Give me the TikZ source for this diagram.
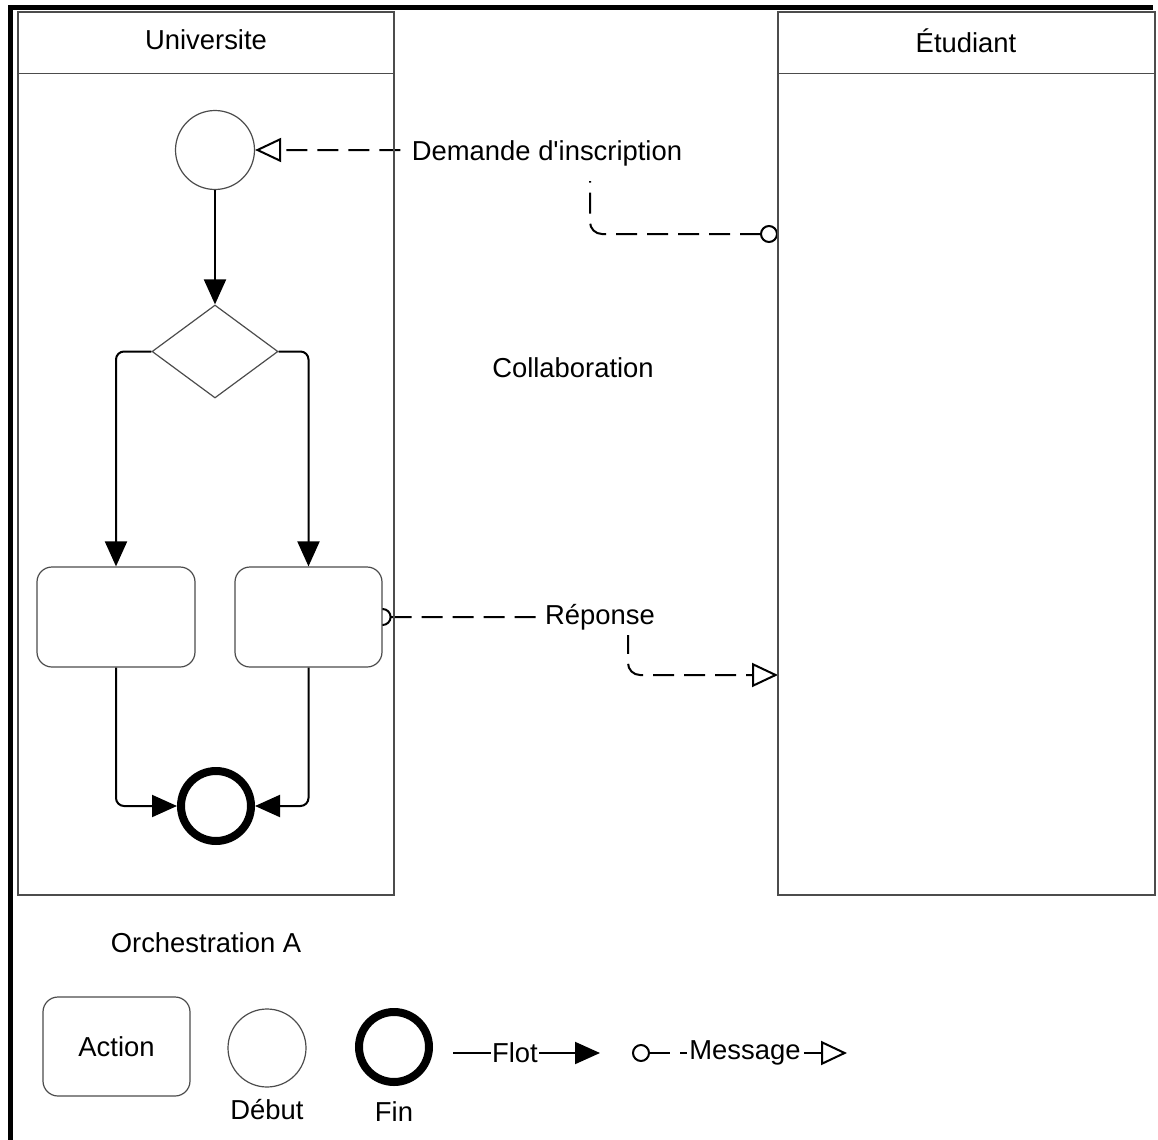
\documentclass[tikz,border=0pt]{standalone}
\usepackage{fontspec}
\setmainfont{Liberation Sans}
\usetikzlibrary{shapes.geometric,arrows.meta,backgrounds}

\tikzset{
  lane/.style={draw=gray!60!black, line width=0.6pt},
  task/.style={draw=gray!60!black, line width=0.6pt, fill=white, rounded corners=7.5pt, inner sep=0pt},
  startev/.style={circle, draw=gray!60!black, line width=0.6pt, fill=white, minimum size=39.5pt, inner sep=0pt},
  endev/.style={circle, draw, line width=4pt, fill=white, minimum size=35pt, inner sep=0pt},
  gateway/.style={diamond, draw=gray!60!black, line width=0.6pt, fill=white, minimum width=63pt, minimum height=46.5pt, inner sep=0pt},
  flot/.style={draw, line width=1pt, rounded corners=4pt, -{Triangle[length=12.5pt,width=11pt]}},
  msg/.style={draw, line width=1pt, rounded corners=6pt, dash pattern=on 10.5pt off 5pt,
    {Circle[open,length=9pt,width=9pt]}-{Triangle[open,length=13pt,width=12pt]}},
  lbl/.style={fill=white, inner xsep=1pt},
}

\begin{document}
\begin{tikzpicture}[x=0.5pt, y=-0.5pt, font=\fontsize{13.7}{16}\selectfont]
  \useasboundingbox (0,0) rectangle (1158,1140);
  \draw[line width=2.5pt] (10,1140) -- (10,7.5) -- (1153,7.5);

  \node[lane, minimum width=188pt, minimum height=441.5pt] (uni) at (206,453.5) {};
  \node[lane, minimum width=188.5pt, minimum height=441.5pt] (etu) at (966.5,453.5) {};
  \draw[lane] (uni.north west) ++(0,62) -- ++(376,0);
  \draw[lane] (etu.north west) ++(0,62) -- ++(377,0);
  \node (unititle) at (206,40) {Universite};
  \node (etutitle) at (966,41) {Étudiant};

  \node[startev] (debut) at (215,150) {};
  \node[gateway] (choix) at (215,351.5) {};
  \node[task, minimum width=79pt, minimum height=50pt] (tacheA) at (116,617) {};
  \node[task, minimum width=73.5pt, minimum height=50pt] (tacheB) at (308.5,617) {};
  \node[endev] (fin) at (216,806) {};

  \draw[flot] (debut) -- (choix);
  \draw[flot] (choix.west) -| (tacheA.north);
  \draw[flot] (choix.east) -| (tacheB.north);
  \draw[flot] (tacheA.south) |- (fin.west);
  \draw[flot] (tacheB.south) |- (fin.east);

  \coordinate (demsrc) at (778,234);
  \coordinate (repdst) at (778,675);
  \begin{scope}[on background layer]
    \draw[msg] (demsrc) -| (590,150) -- (debut.east);
    \draw[msg] ([xshift=-4.5pt]tacheB.east) -| (628,675) -- (repdst);
  \end{scope}
  \node[lbl, inner ysep=7.5pt] (demlbl) at (547,153) {Demande d\textquotesingle inscription};
  \node[lbl, inner ysep=2.5pt] (replbl) at (600,617) {Réponse};

  \node (collab) at (573,368) {Collaboration};
  \node (orch) at (206,943) {Orchestration A};

  \node[task, minimum width=73.5pt, minimum height=49.5pt] (legaction) at (116.5,1046.5) {Action};
  \node[startev, minimum size=39pt] (legdebut) at (267,1048) {};
  \node (txtdebut) at (267,1110) {Début};
  \node[endev] (legfin) at (394,1047) {};
  \node (txtfin) at (394,1112) {Fin};

  \coordinate (flotA) at (453,1053);
  \coordinate (flotB) at (600,1053);
  \draw[flot] (flotA) -- (flotB);
  \node[fill=white, inner xsep=0.5pt, inner ysep=0pt] (flotlbl) at (515,1053) {Flot};

  \coordinate (msgA) at (632,1053);
  \coordinate (msgB) at (847,1053);
  \draw[msg] (msgA) -- (msgB);
  \node[lbl, inner ysep=0pt] (msglbl) at (745,1053) {Message};
\end{tikzpicture}
\end{document}
